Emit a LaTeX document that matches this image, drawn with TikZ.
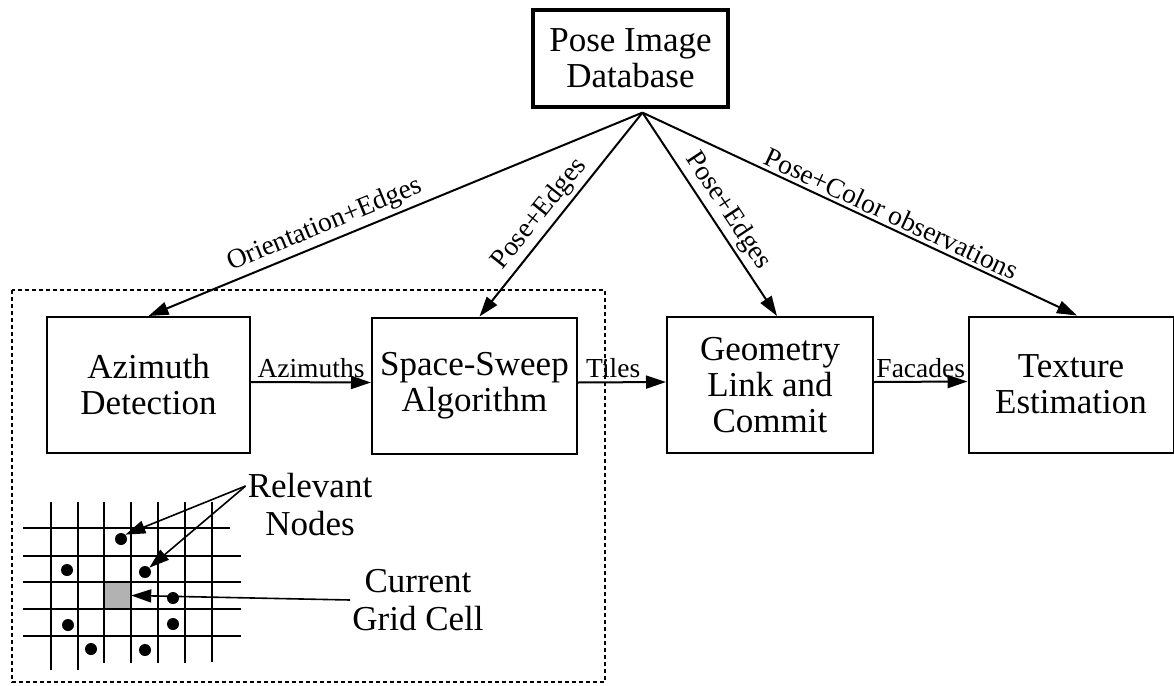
\documentclass[tikz,border=0pt]{standalone}
\usepackage{fontspec}
\setmainfont{Liberation Serif}
\usetikzlibrary{arrows.meta}

\begin{document}
\begin{tikzpicture}[x=1pt,y=-1pt,
        block/.style={draw, line width=2pt, minimum width=205pt, minimum height=136pt,
            inner sep=0pt, align=center, font=\fontsize{35}{36}\selectfont},
        flow/.style={line width=2pt, -{Triangle[length=20pt,width=13pt]}},
        tag/.style={font=\fontsize{27.5}{30}\selectfont},
        note/.style={align=center, inner sep=2pt, font=\fontsize{35}{38}\selectfont},
        dot/.style={circle, fill, inner sep=0pt, minimum size=12pt},
        gridline/.style={line width=2pt}]
        \useasboundingbox (0,0) rectangle (1174,685);

        % processing blocks
        \node[block, line width=3.2pt, minimum width=195pt, minimum height=97pt] (pid) at (630.5,58.5) {Pose Image\\Database};
        \node[block, minimum width=203pt] (az) at (148.5,385) {Azimuth\\Detection};
        \node[block] (ss) at (474.5,385.5) {Space-Sweep\\Algorithm};
        \node[block, minimum width=206pt] (glc) at (770,385) {Geometry\\Link and\\Commit};
        \node[block] (tex) at (1071,384.5) {Texture\\Estimation};

        % dashed frame round the sweep stage
        \draw[line width=1.8pt, dash pattern=on 4pt off 3pt] (12,290) rectangle (605,682);

        % fan out of the database
        \coordinate (fan) at ([xshift=12pt,yshift=-4pt]pid.south);
        \draw[flow] (fan) -- node[tag, sloped, above, pos=0.63] {Orientation+Edges} (az.north);
        \draw[flow] (fan) -- node[tag, sloped, above, pos=0.55] {Pose+Edges} ([xshift=5pt]ss.north);
        \draw[flow] (fan) -- node[tag, sloped, above, pos=0.53] {Pose+Edges} ([xshift=7pt]glc.north);
        \draw[flow] (fan) -- node[tag, sloped, above, pos=0.56] {Pose+Color observations} ([xshift=6pt]tex.north);

        % pipeline
        \draw[flow] ([yshift=3pt]az.east) -- node[tag, above] {Azimuths} ([yshift=3pt]ss.west);
        \draw[flow] ([yshift=3pt]ss.east) -- node[tag, above, pos=0.4] {Tiles} ([yshift=3pt]glc.west);
        \draw[flow] ([yshift=3pt]glc.east) -- node[tag, above] {Facades} ([yshift=3pt]tex.west);

        % sweep grid
        \node[fill=black!30, minimum size=27pt, inner sep=0pt] (cell) at (117.5,595.5) {};
        \foreach \x/\e in {51/670,78/670,104/663,131/663,158/663,185/663,212/662}
            \draw[gridline] (\x,502) -- (\x,\e);
        \foreach \y/\e in {528/230,556/241,582/241,609/241,636/241}
            \draw[gridline] (23,\y) -- (\e,\y);
        \foreach \x/\y [count=\i] in {121/539,67/570,145/572,173/598,68/625,173/624,91/649,145/650}
            \node[dot] (d\i) at (\x,\y) {};

        \node[note] (rel) at (310,505) {Relevant\\Nodes};
        \node[note] (cur) at (418,600) {Current\\Grid Cell};
        \coordinate (relfoot) at ([yshift=19pt]rel.west);
        \draw[flow, line width=1.6pt] (relfoot) -- (d1.north east);
        \draw[flow, line width=1.6pt] (relfoot) -- (d3.north east);
        \draw[flow, line width=1.6pt] (cur.west) -- (cell.east);
    \end{tikzpicture}
\end{document}
